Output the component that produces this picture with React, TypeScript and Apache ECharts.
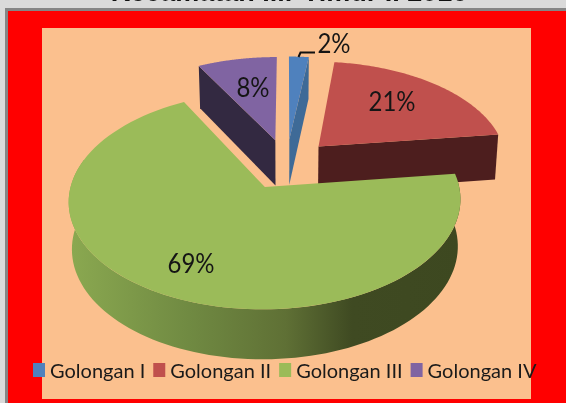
import React, { useEffect, useRef } from "react";
import * as echarts from "echarts";

const titleText = "Kecamatan Ilir Timur II 2016";
const sliceNames = ["Golongan I", "Golongan II", "Golongan III", "Golongan IV"];
const sliceValues = [2, 21, 69, 8];

const topColors = ["#4F81BD", "#C0504D", "#9BBB59", "#8064A2"];
const wallColors = ["#3E6A97", "#4D1E1E", "#5F7035", "#332941"];
const labelPoints = [[334, 42], [392, 100], [191, 262], [253, 86]];

const CX = 286.5, CY = 164, RX = 189, RY = 103, PERSP = 0.13, EXPLODE = 0.245, DEPTH = 46;

function project(u: number, v: number, down: boolean): number[] {
  const s = 1 + PERSP * v;
  const x = CX + RX * u * s * (down ? 0.985 : 1);
  const y = CY + RY * v * s + (down ? DEPTH * (1 + 0.07 * v) : 0);
  return [x, y];
}

function sliceAngles(i: number): number[] {
  const total = sliceValues.reduce((a, b) => a + b, 0);
  const before = sliceValues.slice(0, i).reduce((a, b) => a + b, 0);
  return [(before / total) * 2 * Math.PI, ((before + sliceValues[i]) / total) * 2 * Math.PI];
}

function renderSlice(i: number) {
  return (_params: any, api: any) => {
    const value = api.value(0);
    const [a0, a1] = sliceAngles(i);
    const mid = (a0 + a1) / 2;
    const ou = EXPLODE * Math.sin(mid);
    const ov = -EXPLODE * Math.cos(mid);
    const rim = (a: number, down: boolean) => project(ou + Math.sin(a), ov - Math.cos(a), down);
    const steps = 96;
    const arc = (from: number, to: number, down: boolean) => {
      const pts: number[][] = [];
      for (let k = 0; k <= steps; k++) pts.push(rim(from + ((to - from) * k) / steps, down));
      return pts;
    };
    const tipTop = project(ou, ov, false);
    const tipBottom = project(ou, ov, true);
    const children: any[] = [];
    if (i === 2) {
      const end = (285 / 180) * Math.PI;
      children.push({
        type: "polygon",
        shape: { points: [...arc(a0, end, false), ...arc(a0, end, true).reverse()] },
        style: {
          fill: new echarts.graphic.LinearGradient(72, 0, 461, 0, [
            { offset: 0, color: "#8AA850" },
            { offset: 0.3, color: "#708A42" },
            { offset: 0.55, color: "#5F7035" },
            { offset: 0.72, color: "#3F4A22" },
            { offset: 1, color: "#3D4820" },
          ], true),
        },
      });
    } else {
      const a = i === 3 ? a0 : a1;
      children.push({
        type: "polygon",
        shape: { points: [rim(a, false), tipTop, tipBottom, rim(a, true)] },
        style: { fill: wallColors[i] },
      });
    }
    children.push({
      type: "polygon",
      shape: { points: [tipTop, ...arc(a0, a1, false)] },
      style: { fill: topColors[i] },
    });
    children.push({
      type: "text",
      x: labelPoints[i][0],
      y: labelPoints[i][1],
      scaleY: 1.12,
      style: {
        text: `${value}%`,
        fontFamily: "Lato",
        fontSize: 24,
        fill: "#151515",
        align: "center",
        verticalAlign: "middle",
      },
    });
    if (i === 0) {
      children.push({
        type: "polyline",
        shape: { points: [[298.5, 57], [300.5, 52.5], [315, 52.5]] },
        style: { stroke: "#111111", lineWidth: 2, fill: "none" },
      });
    }
    return { type: "group", children };
  };
}

const zOrder = [3, 3, 4, 2];

export default function App() {
  const ref = useRef<HTMLDivElement>(null);
  useEffect(() => {
    const chart = echarts.init(ref.current as HTMLDivElement, undefined, { renderer: "svg" });
    chart.setOption({
      animation: false,
      graphic: [
        { type: "rect", z: -5, shape: { x: 0, y: 0, width: 566, height: 403 }, style: { fill: "#DADADA" } },
        { type: "rect", z: -4, shape: { x: 5, y: 8, width: 561, height: 395 }, style: { fill: "#858585" } },
        { type: "rect", z: -3, shape: { x: 8, y: 11, width: 558, height: 392 }, style: { fill: "#FF0000" } },
        { type: "rect", z: -2, shape: { x: 42, y: 28, width: 489, height: 371 }, style: { fill: "#FBC08E" } },
        {
          type: "text", z: -1, x: 289, y: 5.5,
          style: { text: titleText, fontFamily: "Liberation Sans", fontWeight: "bold", fontSize: 27, fill: "#111111", align: "center", verticalAlign: "bottom" },
        },
      ],
      legend: {
        left: 28,
        top: 355,
        itemWidth: 12,
        itemHeight: 14,
        itemGap: 8,
        icon: "rect",
        data: sliceNames,
        selectedMode: false,
        textStyle: { fontFamily: "Lato", fontSize: 20, color: "#1A1A1A", padding: [0, 0, 0, 0] },
      },
      series: sliceNames.map((name, i) => ({
        type: "custom",
        name,
        coordinateSystem: "none",
        z: zOrder[i],
        itemStyle: { color: topColors[i] },
        data: [[sliceValues[i]]],
        renderItem: renderSlice(i),
      })),
    });
    return () => chart.dispose();
  }, []);
  return <div ref={ref} style={{ position: "fixed", left: 0, top: 0, width: 566, height: 403 }} />;
}
